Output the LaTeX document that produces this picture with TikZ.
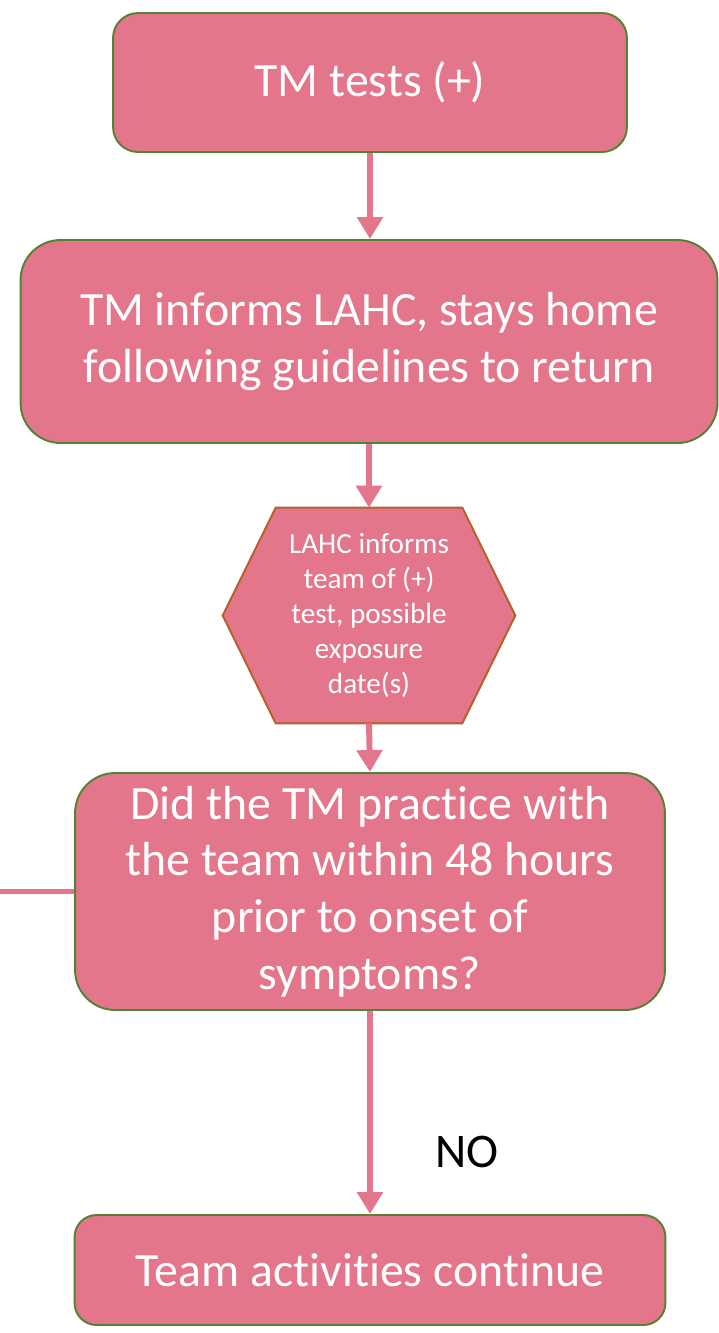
\documentclass[tikz,border=0pt]{standalone}
\usepackage{fontspec}
\setmainfont[Ligatures=NoCommon]{Carlito}
\usepackage{tikz}
\usetikzlibrary{arrows.meta, positioning}
\definecolor{rosefill}{RGB}{228,118,140}
\definecolor{leafline}{RGB}{84,130,53}
\definecolor{rustline}{RGB}{180,96,40}

\begin{document}
\begin{tikzpicture}[x=0.02cm, y=-0.02cm,
    stepbox/.style={draw=leafline, line width=1.1pt, fill=rosefill, text=white,
      align=center, inner sep=0pt, font=\fontsize{27.2}{32.3}\selectfont},
    hexframe/.style={inner sep=0pt, minimum width=5.84cm, minimum height=4.3cm},
    hexline/.style={draw=rustline, line width=1.1pt, fill=rosefill},
    hextext/.style={text=white, align=center, inner sep=0pt, font=\fontsize{16.6}{19.8}\selectfont},
    flow/.style={draw=rosefill, line width=3.4pt, -{Triangle[width=0.5cm,length=0.44cm]}},
    plain/.style={draw=rosefill, line width=3.4pt}]
  \useasboundingbox (0,0) rectangle (718,1333);

  \node[stepbox, minimum width=10.28cm, minimum height=2.78cm, rounded corners=0.5cm]
    (tests) at (370,82.5) {TM tests (+)};
  \node[stepbox, minimum width=13.94cm, minimum height=4.06cm, rounded corners=0.8cm]
    (informs) at (369,341.5) {TM informs LAHC, stays home\\following guidelines to return};

  % hexagon: empty frame node, outline drawn from its anchors, then the text
  \node[hexframe] (hex) at (369,615.5) {};
  \filldraw[hexline] ([xshift=1.06cm]hex.north west) -- ([xshift=-1.06cm]hex.north east)
    -- (hex.east) -- ([xshift=-1.06cm]hex.south east) -- ([xshift=1.06cm]hex.south west)
    -- (hex.west) -- cycle;
  \node[hextext] (hexlabel) at (hex) {LAHC informs\\team of (+)\\test, possible\\exposure\\date(s)};

  \node[stepbox, minimum width=11.8cm, minimum height=4.74cm, rounded corners=0.8cm]
    (practice) at (370,891.5) {Did the TM practice with\\the team within 48 hours\\prior to onset of\\symptoms?};
  \node[stepbox, minimum width=11.82cm, minimum height=2.2cm, rounded corners=0.44cm]
    (continue) at (370,1270) {Team activities continue};

  \node[font=\fontsize{27.5}{32}\selectfont, inner sep=0pt] (nolabel) at (467,1152) {NO};
  \coordinate (offleft) at (0,891.5);

  \draw[flow] (tests.south) -- (tests.south |- informs.north);
  \draw[flow] (informs.south) -- (hex.north);
  \draw[flow] (hex.south) -- (practice.north);
  \draw[flow] (practice.south) -- (continue.north);
  \draw[plain] (practice.west) -- (offleft);
\end{tikzpicture}
\end{document}
